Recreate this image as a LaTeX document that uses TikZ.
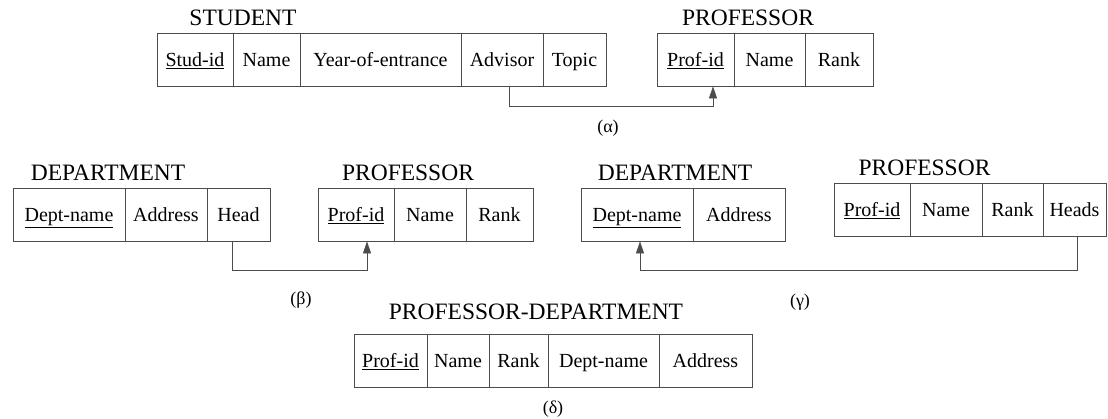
\documentclass[tikz,border=0pt]{standalone}
\usepackage{fontspec}
\setmainfont{Liberation Serif}
\usepackage{tikz}
\usetikzlibrary{arrows.meta}

\begin{document}
\begin{tikzpicture}[x=1pt,y=-1pt,
  cell/.style={draw=black!70,line width=0.8pt,minimum height=53pt,inner sep=0pt,text height=16pt,text depth=2pt,font=\fontsize{20}{24}\selectfont},
  tname/.style={inner sep=0pt,font=\fontsize{23.5}{28}\selectfont},
  capt/.style={inner sep=0pt,font=\fontsize{18}{22}\selectfont},
  fk/.style={-{Triangle[length=12pt,width=8pt]},draw=black!70,line width=0.8pt}]
  \useasboundingbox (0,0) rectangle (1108,418);
  % (alpha)
  \node[tname] (stud) at (243,18) {STUDENT};
  \node[cell,minimum width=76pt] (sid) at (195,59.5) {\underline{Stud-id}};
  \node[cell,minimum width=67pt] (sname) at (266.5,59.5) {Name};
  \node[cell,minimum width=161pt] (syear) at (380.5,59.5) {Year-of-entrance};
  \node[cell,minimum width=82pt] (sadv) at (502,59.5) {Advisor};
  \node[cell,minimum width=63pt] (stopic) at (574.5,59.5) {Topic};
  \node[tname] (profa) at (748,18) {PROFESSOR};
  \node[cell,minimum width=77pt] (apid) at (695.5,59.5) {\underline{Prof-id}};
  \node[cell,minimum width=71pt] (aname) at (769.5,59.5) {Name};
  \node[cell,minimum width=68pt] (arank) at (839,59.5) {Rank};
  \draw[fk] ([xshift=7pt]sadv.south) |- ([xshift=17.5pt,yshift=-20pt]apid.south) -- ([xshift=17.5pt]apid.south);
  \node[capt] (ca) at (608,128) {(α)};
  % (beta)
  \node[tname] (deptb) at (108,173) {DEPARTMENT};
  \node[cell,minimum width=112pt] (bdname) at (69,214.5) {\underline{Dept-name}};
  \node[cell,minimum width=82pt] (baddr) at (166,214.5) {Address};
  \node[cell,minimum width=63pt] (bhead) at (238.5,214.5) {Head};
  \node[tname] (profb) at (408,173) {PROFESSOR};
  \node[cell,minimum width=76pt] (bpid) at (356,214.5) {\underline{Prof-id}};
  \node[cell,minimum width=72pt] (bname) at (430,214.5) {Name};
  \node[cell,minimum width=67pt] (brank) at (499.5,214.5) {Rank};
  \draw[fk] ([xshift=-6.5pt]bhead.south) |- ([xshift=11pt,yshift=-29pt]bpid.south) -- ([xshift=11pt]bpid.south);
  \node[capt] (cb) at (301,300) {(β)};
  % (gamma)
  \node[tname] (deptg) at (675,173) {DEPARTMENT};
  \node[cell,minimum width=112pt] (gdname) at (637,214.5) {\underline{Dept-name}};
  \node[cell,minimum width=92pt] (gaddr) at (739,214.5) {Address};
  \node[tname] (profg) at (924.5,168) {PROFESSOR};
  \node[cell,minimum width=76pt] (gpid) at (872,209.5) {\underline{Prof-id}};
  \node[cell,minimum width=72pt] (gname) at (946,209.5) {Name};
  \node[cell,minimum width=61pt] (grank) at (1012.5,209.5) {Rank};
  \node[cell,minimum width=63pt] (gheads) at (1074.5,209.5) {Heads};
  \draw[fk] ([xshift=2.5pt]gheads.south) |- ([xshift=3pt,yshift=-29pt]gdname.south) -- ([xshift=3pt]gdname.south);
  \node[capt] (cg) at (800,302) {(γ)};
  % (delta)
  \node[tname] (pd) at (536,312) {PROFESSOR-DEPARTMENT};
  \node[cell,minimum width=73pt] (dpid) at (390.5,360.5) {\underline{Prof-id}};
  \node[cell,minimum width=62pt] (dname) at (458,360.5) {Name};
  \node[cell,minimum width=59pt] (drank) at (518.5,360.5) {Rank};
  \node[cell,minimum width=111pt] (ddname) at (603.5,360.5) {Dept-name};
  \node[cell,minimum width=93pt] (daddr) at (705.5,360.5) {Address};
  \node[capt] (cd) at (553,409) {(δ)};
\end{tikzpicture}
\end{document}
